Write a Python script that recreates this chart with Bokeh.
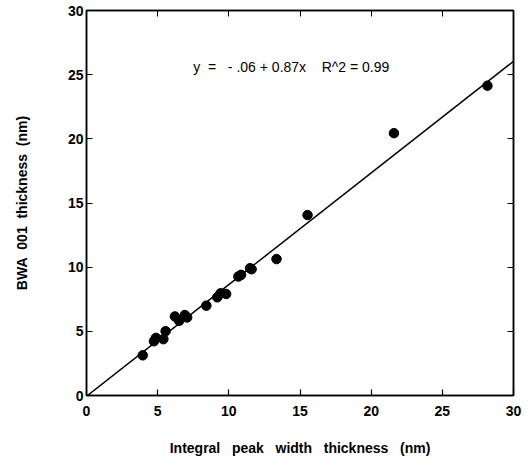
from bokeh.plotting import figure
from bokeh.models import LinearAxis, Range1d, Label
from bokeh.embed import file_html
from bokeh.resources import INLINE

# Data
integral_width_nm = [3.95, 4.74, 4.88, 5.40, 5.56, 6.21, 6.51, 6.91, 7.07, 8.42,
                     9.19, 9.42, 9.81, 10.67, 10.86, 11.49, 11.60, 13.35,
                     15.53, 21.6, 28.17]
bwa_001_nm = [3.13, 4.23, 4.49, 4.39, 5.01, 6.16, 5.82, 6.27, 6.08, 7.00,
              7.65, 7.96, 7.91, 9.27, 9.40, 9.92, 9.84, 10.63,
              14.06, 20.44, 24.14]
fit_intercept = -0.06
fit_slope = 0.87
fit_x = [0, 30]
fit_y = [fit_intercept + fit_slope * v for v in fit_x]
x_ticks = [0, 5, 10, 15, 20, 25, 30]
y_ticks = [0, 5, 10, 15, 20, 25, 30]
NB = "\u00a0"
equation_text = f"y{NB} ={NB}{NB} -{NB}.06 + 0.87x{NB}{NB}{NB} R^2 = 0.99"
x_title = f"Integral{NB}{NB} peak{NB}{NB} width{NB}{NB} thickness{NB}{NB} (nm)"
y_title = f"BWA{NB} 001{NB} thickness{NB} (nm)"

FONT = "Liberation Sans"

p = figure(width=529, height=461, output_backend="svg", toolbar_location=None,
           x_range=Range1d(0, 30), y_range=Range1d(0, 30),
           min_border_left=86, min_border_right=16, min_border_top=10,
           min_border_bottom=66)
p.grid.visible = False
p.outline_line_color = "black"
p.outline_line_width = 1.5
p.background_fill_color = "white"
p.border_fill_color = "white"

for ax, tk in ((p.xaxis[0], x_ticks), (p.yaxis[0], y_ticks)):
    ax.ticker = tk
    ax.ticker.num_minor_ticks = 5
    ax.major_tick_in = 6
    ax.major_tick_out = 0
    ax.minor_tick_in = 3
    ax.minor_tick_out = 0
    ax.axis_line_width = 1.5
    ax.major_tick_line_width = 1.2
    ax.major_label_text_font = FONT
    ax.major_label_text_font_size = "14px"
    ax.major_label_text_font_style = "bold"
    ax.major_label_text_color = "black"
    ax.axis_label_text_font = FONT
    ax.axis_label_text_font_size = "14px"
    ax.axis_label_text_font_style = "bold"
    ax.axis_label_text_color = "black"

p.xaxis.major_label_standoff = 10
p.yaxis.major_label_standoff = 3
p.xaxis.axis_label = x_title
p.yaxis.axis_label = y_title
p.xaxis.axis_label_standoff = 21
p.yaxis.axis_label_standoff = 35

for loc, tk in (("above", x_ticks), ("right", y_ticks)):
    ax = LinearAxis(ticker=tk)
    ax.ticker.num_minor_ticks = 5
    ax.major_tick_in = 6
    ax.major_tick_out = 0
    ax.minor_tick_in = 3
    ax.minor_tick_out = 0
    ax.axis_line_width = 1.5
    ax.major_label_text_color = None
    ax.major_label_standoff = 0
    p.add_layout(ax, loc)

p.line(fit_x, fit_y, line_color="black", line_width=1.5)
p.scatter(integral_width_nm, bwa_001_nm, size=9.5, fill_color="black",
          line_color="black")

p.add_layout(Label(x=7.5, y=25.6, text=equation_text, text_font=FONT,
                   text_font_size="14px", text_color="black",
                   text_baseline="middle", text_align="left"))

open("out.html", "w").write(file_html(p, INLINE))
